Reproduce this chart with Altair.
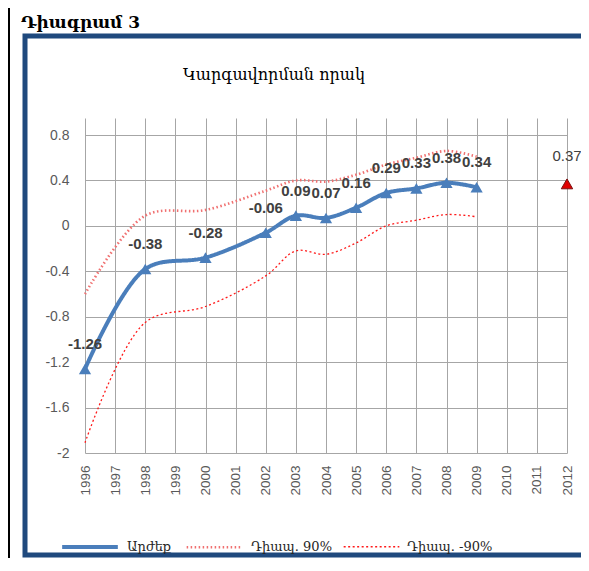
import altair as alt
import pandas as pd

years = [1996, 1998, 2000, 2002, 2003, 2004, 2005, 2006, 2007, 2008, 2009]
values = [-1.26, -0.38, -0.28, -0.06, 0.09, 0.07, 0.16, 0.29, 0.33, 0.38, 0.34]
upper90 = [-0.60, 0.09, 0.14, 0.31, 0.40, 0.39, 0.45, 0.54, 0.60, 0.66, 0.61]
lower90 = [-1.91, -0.85, -0.71, -0.44, -0.22, -0.25, -0.15, 0.00, 0.05, 0.10, 0.08]
forecast_year = [2012]
forecast_value = [0.37]
series_names = ["Արժեք", "Դիապ. 90%", "Դիապ. -90%"]
year_ticks = list(range(1996, 2013))
value_ticks = [-2, -1.6, -1.2, -0.8, -0.4, 0, 0.4, 0.8]
chart_title = "Կարգավորման որակ"
figure_title = "Դիագրամ 3"

rows = []
for name, vals in zip(series_names, [values, upper90, lower90]):
    for yr, v in zip(years, vals):
        rows.append({"year": yr, "value": v, "series": name, "label": f"{v:.2f}"})
df = pd.DataFrame(rows)
fc = pd.DataFrame({"year": forecast_year, "value": forecast_value,
                   "label": [f"{v:.2f}" for v in forecast_value]})
deco = pd.DataFrame({"k": [0]})

colors = ["#4a7ebb", "#f07070", "#ff1a1a"]

x = alt.X("year:Q", scale=alt.Scale(domain=[1996, 2012], nice=False, zero=False),
          axis=alt.Axis(values=year_ticks, format="d", labelAngle=270, title=None,
                        labelPadding=12, labelFontSize=13.5))
y = alt.Y("value:Q", scale=alt.Scale(domain=[-2, 0.95], nice=False, zero=False),
          axis=alt.Axis(values=value_ticks, labelExpr="datum.value + ''", title=None,
                        labelPadding=16, labelFontSize=14))

leg = alt.Legend(orient="none", legendX=-25, legendY=399, direction="horizontal",
                 title=None, symbolType="stroke", symbolSize=3100,
                 labelFont="DejaVu Serif", labelFontSize=13, labelColor="#262626",
                 columnPadding=9, labelOffset=7)

lines = alt.Chart(df).mark_line(interpolate="catmull-rom").encode(
    x=x, y=y,
    color=alt.Color("series:N", scale=alt.Scale(domain=series_names, range=colors), legend=leg),
    strokeDash=alt.StrokeDash("series:N", scale=alt.Scale(domain=series_names,
                              range=[[1, 0], [1.5, 2.5], [2, 2.5]]), legend=leg),
    strokeWidth=alt.StrokeWidth("series:N", scale=alt.Scale(domain=series_names,
                                range=[4, 1.3, 2.2]), legend=leg),
    order=alt.Order("year:Q"),
)

main = df[df["series"] == series_names[0]]

pts = alt.Chart(main).mark_point(shape="triangle-up", filled=True, size=150,
                                 color="#4a7ebb", opacity=1).encode(x=x, y=y)

labels = alt.Chart(main).mark_text(font="Liberation Sans", fontSize=15, fontWeight="bold",
                                   color="#404040", dy=-25).encode(x=x, y=y, text="label:N")

fpt = alt.Chart(fc).mark_point(shape="triangle-up", filled=True, size=130,
                               fill="#e00000", stroke="#7a1010", strokeWidth=1,
                               opacity=1).encode(x=x, y=y)
flab = alt.Chart(fc).mark_text(font="Liberation Sans", fontSize=15,
                               color="#404040", dy=-28).encode(x=x, y=y, text="label:N")

box = alt.Chart(deco).mark_rect(fillOpacity=0, stroke="#1f497d", strokeWidth=5).encode(
    x=alt.value(-60), x2=alt.value(700), y=alt.value(-82), y2=alt.value(437))
black = alt.Chart(deco).mark_rule(color="black", strokeWidth=2).encode(
    x=alt.value(-76), y=alt.value(-110), y2=alt.value(440))
head = alt.Chart(deco).mark_text(text=figure_title, font="DejaVu Serif", fontSize=17,
                                 fontWeight="bold", align="left", baseline="alphabetic",
                                 color="black").encode(x=alt.value(-64), y=alt.value(-90))
ttl = alt.Chart(deco).mark_text(text=chart_title, font="DejaVu Serif", fontSize=16,
                                align="center", baseline="alphabetic",
                                color="black").encode(x=alt.value(189), y=alt.value(-38))

chart = alt.layer(box, black, head, ttl, lines, pts, labels, fpt, flab).properties(
    width=482, height=335,
    padding={"left": 77, "top": 110, "right": 14, "bottom": 105},
    autosize=alt.AutoSizeParams(type="none"),
).configure_view(stroke=None).configure_axis(
    labelFont="Liberation Sans", labelColor="#595959",
    gridColor="#a6a6a6", gridWidth=1, domain=False, ticks=False)

chart.save("out.html", embed_options={"renderer": "svg", "actions": False})
